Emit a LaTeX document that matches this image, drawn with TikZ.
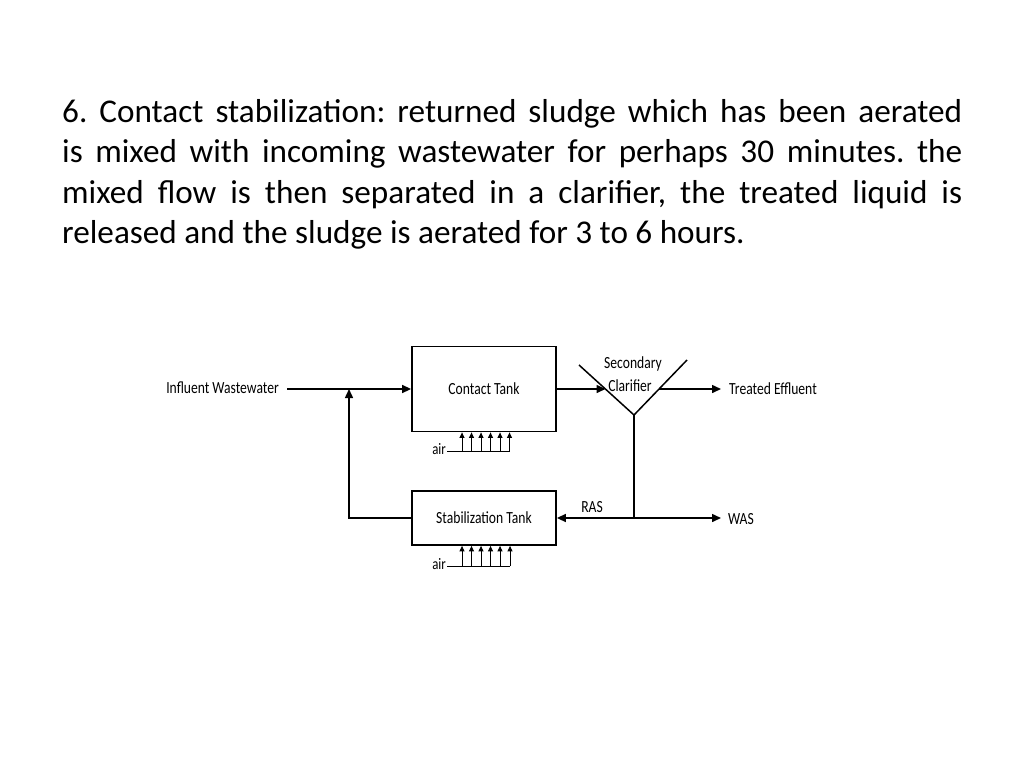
\documentclass[tikz,border=0pt]{standalone}
\usepackage{fontspec}
\setmainfont{Carlito}
\newfontfamily\cond[FakeStretch=0.8]{Carlito}
\usetikzlibrary{arrows.meta}
\frenchspacing
\begin{document}
\begin{tikzpicture}[x=1pt,y=1pt,
  tank/.style={draw, line width=1.8pt, minimum width=144pt, inner sep=0pt, font=\cond\fontsize{17}{20}\selectfont},
  lbl/.style={inner sep=0pt, font=\cond\fontsize{17}{20}\selectfont},
  airlbl/.style={inner sep=0pt, anchor=base east, font=\cond\fontsize{16}{19}\selectfont},
  flowarrow/.style={line width=1.5pt, arrows={-Triangle[length=9pt,width=8pt]}},
  pipeline/.style={line width=1.5pt},
  airline/.style={line width=0.9pt},
  airarrow/.style={line width=0.9pt, arrows={-Triangle[length=5.5pt,width=5pt]}},
  headline/.style={anchor=base west, inner sep=0pt, font=\fontsize{33.2}{40}\selectfont}]
\useasboundingbox[fill=white] (0,0) rectangle (1024,-768);

% heading text
\node[headline] (h1) at (62,-122) {\makebox[900pt][s]{6. Contact stabilization: returned sludge which has been aerated}};
\node[headline] (h2) at (62,-162.5) {\makebox[900pt][s]{is mixed with incoming wastewater for perhaps 30 minutes. the}};
\node[headline] (h3) at (62,-203) {\makebox[900pt][s]{mixed flow is then separated in a clarifier, the treated liquid is}};
\node[headline] (h4) at (62,-243.5) {released and the sludge is aerated for 3 to 6 hours.};

% tanks
\node[tank, minimum height=85pt] (contact) at (484,-389) {Contact Tank};
\node[tank, minimum height=54pt] (stab) at (484,-518) {Stabilization Tank};

% influent
\node[lbl, anchor=east] (infl) at (279,-388) {Influent Wastewater};
\coordinate (inS) at (287,-389);
\coordinate (j1) at (349,-389);
\draw[flowarrow] (inS) -- (contact.west);
\draw[flowarrow] (stab.west) -| (j1);

% clarifier
\coordinate (clL) at (579,-365);
\coordinate (clB) at (634,-415);
\coordinate (clR) at (687,-360);
\coordinate (cin) at (605.5,-389);
\coordinate (cout) at (659,-389);
\coordinate (sj) at (634,-518);
\draw[pipeline] (clL) -- (clB) -- (clR);
\node[lbl] (sec) at (633,-364) {Secondary};
\node[lbl] (clar) at (630,-386) {Clarifier};
\draw[flowarrow] (contact.east) -- (cin);

% effluent
\node[lbl, anchor=west] (eff) at (729,-389) {Treated Effluent};
\draw[flowarrow] (cout) -- ([xshift=-8pt]eff.west);

% sludge lines
\draw[pipeline] (clB) -- (sj);
\draw[flowarrow] (sj) -- (stab.east);
\node[lbl] (ras) at (592,-507) {RAS};
\node[lbl, anchor=west] (was) at (728,-519) {WAS};
\draw[flowarrow] (sj) -- ([xshift=-7pt]was.west |- sj);

% air, contact tank
\node[airlbl] (air1) at (446,-454.5) {air};
\coordinate (a1) at (447,-451);
\draw[airline] (a1) -- (509.5,-451);
\foreach \x in {462,471.5,481,490.5,500,509.5}
  \draw[airarrow] (\x,-451) -- (\x,-451 |- contact.south);

% air, stabilization tank
\node[airlbl] (air2) at (446,-569.5) {air};
\coordinate (a2) at (447,-566);
\draw[airline] (a2) -- (510,-566);
\foreach \x in {462,471.5,481,490.5,500,510}
  \draw[airarrow] (\x,-566) -- (\x,-566 |- stab.south);
\end{tikzpicture}
\end{document}
